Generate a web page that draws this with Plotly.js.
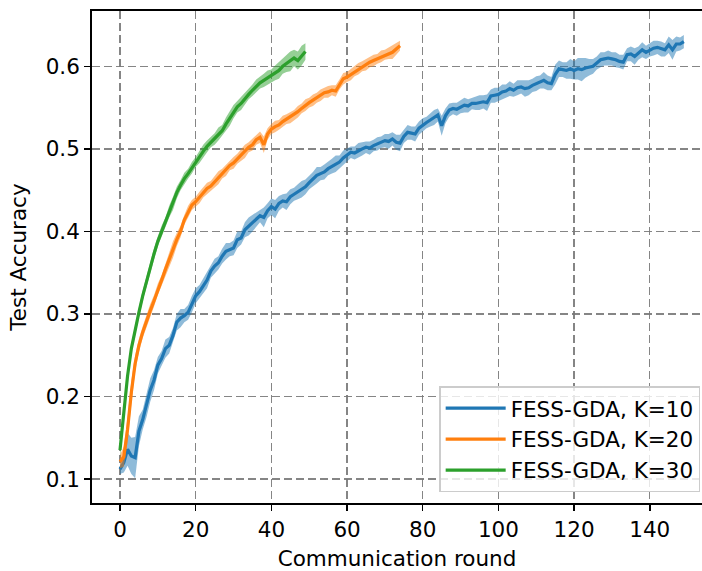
<!DOCTYPE html>
<html>
<head>
<meta charset="utf-8">
<script src="https://cdn.plot.ly/plotly-3.0.1.min.js"></script>
<style>html,body{margin:0;padding:0;background:#fff;}#chart{width:702px;height:571px;}</style>
</head>
<body>
<div id="chart"></div>
<script>
const seriesNames = ["FESS-GDA, K=10", "FESS-GDA, K=20", "FESS-GDA, K=30"];
const seriesColors = ["#1f77b4", "#ff7f0e", "#2ca02c"];
const fillColors = ["rgba(31,119,180,0.5)", "rgba(255,127,14,0.5)", "rgba(44,160,44,0.5)"];

const accK10 = [0.112,0.120,0.136,0.128,0.126,0.158,0.172,0.190,0.208,0.220,
0.238,0.246,0.258,0.262,0.274,0.290,0.295,0.298,0.302,0.312,
0.322,0.327,0.334,0.341,0.352,0.358,0.362,0.370,0.376,0.378,
0.380,0.390,0.392,0.402,0.406,0.410,0.414,0.419,0.417,0.425,
0.430,0.427,0.434,0.437,0.436,0.442,0.445,0.448,0.451,0.454,
0.459,0.463,0.468,0.470,0.472,0.476,0.479,0.482,0.484,0.489,
0.493,0.496,0.495,0.498,0.500,0.502,0.501,0.504,0.506,0.508,
0.510,0.509,0.512,0.508,0.507,0.515,0.520,0.519,0.518,0.525,
0.529,0.532,0.535,0.538,0.541,0.528,0.540,0.547,0.549,0.548,
0.551,0.553,0.552,0.555,0.555,0.556,0.557,0.556,0.564,0.565,
0.566,0.569,0.570,0.573,0.571,0.574,0.575,0.573,0.574,0.577,
0.579,0.581,0.583,0.580,0.579,0.590,0.597,0.596,0.595,0.597,
0.595,0.597,0.596,0.598,0.599,0.600,0.604,0.608,0.609,0.610,
0.609,0.608,0.606,0.605,0.614,0.615,0.612,0.616,0.620,0.617,
0.620,0.622,0.623,0.621,0.620,0.626,0.620,0.627,0.627,0.630];
const stdK10 = [0.006,0.012,0.020,0.022,0.025,0.018,0.012,0.015,0.014,0.012,
0.010,0.009,0.011,0.010,0.009,0.010,0.011,0.008,0.009,0.010,
0.009,0.008,0.009,0.010,0.008,0.009,0.008,0.009,0.010,0.008,
0.009,0.010,0.008,0.009,0.011,0.010,0.009,0.008,0.012,0.009,
0.010,0.011,0.009,0.008,0.010,0.009,0.008,0.009,0.010,0.009,
0.008,0.009,0.010,0.008,0.009,0.008,0.009,0.010,0.008,0.009,
0.008,0.007,0.008,0.009,0.008,0.007,0.008,0.007,0.008,0.007,
0.008,0.009,0.008,0.009,0.010,0.008,0.009,0.008,0.009,0.008,
0.008,0.007,0.008,0.009,0.008,0.012,0.009,0.008,0.007,0.008,
0.008,0.009,0.008,0.007,0.008,0.009,0.008,0.010,0.008,0.009,
0.008,0.009,0.008,0.009,0.008,0.009,0.008,0.010,0.009,0.008,
0.009,0.008,0.010,0.009,0.008,0.012,0.010,0.009,0.010,0.012,
0.011,0.013,0.014,0.012,0.010,0.009,0.008,0.009,0.008,0.009,
0.008,0.009,0.008,0.009,0.008,0.009,0.010,0.008,0.009,0.008,
0.008,0.009,0.008,0.009,0.008,0.010,0.012,0.009,0.008,0.008];

const accK20 = [0.121,0.127,0.160,0.205,0.240,0.262,0.278,0.292,0.304,0.316,
0.330,0.341,0.354,0.365,0.378,0.390,0.400,0.414,0.424,0.432,
0.436,0.441,0.447,0.452,0.455,0.460,0.465,0.470,0.474,0.480,
0.483,0.488,0.492,0.497,0.502,0.505,0.511,0.514,0.505,0.518,
0.524,0.527,0.529,0.533,0.536,0.538,0.541,0.545,0.549,0.553,
0.556,0.559,0.562,0.565,0.568,0.569,0.571,0.570,0.578,0.585,
0.587,0.590,0.594,0.597,0.600,0.602,0.605,0.607,0.609,0.612,
0.614,0.616,0.617,0.621,0.625];
const stdK20 = [0.008,0.012,0.015,0.014,0.010,0.008,0.007,0.007,0.008,0.007,
0.007,0.006,0.007,0.008,0.010,0.008,0.007,0.006,0.007,0.006,
0.006,0.007,0.006,0.007,0.006,0.007,0.008,0.006,0.007,0.006,
0.007,0.006,0.007,0.008,0.006,0.007,0.006,0.007,0.010,0.007,
0.006,0.007,0.006,0.007,0.006,0.007,0.006,0.007,0.006,0.007,
0.006,0.007,0.006,0.007,0.006,0.007,0.006,0.007,0.006,0.007,
0.006,0.007,0.006,0.007,0.006,0.007,0.006,0.007,0.006,0.007,
0.006,0.007,0.008,0.007,0.006];

const accK30 = [0.135,0.180,0.225,0.258,0.282,0.302,0.322,0.340,0.357,0.373,
0.388,0.400,0.411,0.424,0.434,0.447,0.456,0.464,0.470,0.477,
0.484,0.490,0.497,0.503,0.508,0.512,0.518,0.522,0.530,0.537,
0.545,0.551,0.555,0.561,0.566,0.571,0.576,0.580,0.583,0.586,
0.588,0.592,0.595,0.600,0.603,0.606,0.610,0.607,0.613,0.618];
const stdK30 = [0.010,0.008,0.007,0.006,0.006,0.006,0.006,0.006,0.007,0.007,
0.006,0.007,0.006,0.007,0.008,0.007,0.006,0.007,0.006,0.007,
0.006,0.007,0.008,0.007,0.006,0.007,0.008,0.007,0.008,0.009,
0.008,0.007,0.008,0.007,0.006,0.007,0.008,0.007,0.008,0.009,
0.008,0.009,0.010,0.009,0.010,0.012,0.010,0.011,0.012,0.010];

const xTicks = [0,20,40,60,80,100,120,140];
const yTicks = [0.1,0.2,0.3,0.4,0.5,0.6];

const allAcc = [accK10, accK20, accK30];
const allStd = [stdK10, stdK20, stdK30];

const traces = [];
allAcc.forEach((acc, i) => {
  const x = acc.map((_, r) => r);
  const up = acc.map((v, r) => v + allStd[i][r]);
  const lo = acc.map((v, r) => v - allStd[i][r]);
  traces.push({
    x: x.concat(x.slice().reverse()),
    y: up.concat(lo.slice().reverse()),
    type: 'scatter', mode: 'lines', fill: 'toself',
    fillcolor: fillColors[i], line: {width: 0, color: fillColors[i]},
    showlegend: false, hoverinfo: 'skip', legendgroup: 'g' + i
  });
  traces.push({
    x: x, y: acc, type: 'scatter', mode: 'lines', name: seriesNames[i],
    legendgroup: 'g' + i,
    line: {color: seriesColors[i], width: 3.2}
  });
});

const font = {family: 'DejaVu Sans, sans-serif', size: 21.5, color: '#000'};
const gridDash = '8px,4px';
const layout = {
  width: 702, height: 571,
  margin: {l: 92, r: 0, t: 11, b: 68},
  paper_bgcolor: '#fff', plot_bgcolor: '#fff',
  font: font,
  showlegend: true,
  xaxis: {
    range: [-7.4, 153.8], tickvals: xTicks, ticks: 'outside', ticklen: 6, tickwidth: 1.5,
    tickcolor: '#000', showline: true, linecolor: '#000', linewidth: 1.8, mirror: true,
    showgrid: true, gridcolor: 'rgba(120,120,120,0.9)', griddash: gridDash, gridwidth: 1.4,
    zeroline: false, tickfont: font,
    title: {text: 'Communication round', font: font, standoff: 13}
  },
  yaxis: {
    range: [0.071, 0.667], tickvals: yTicks, ticktext: yTicks.map(v => v.toFixed(1)),
    ticks: 'outside', ticklen: 6, tickwidth: 1.5,
    tickcolor: '#000', showline: true, linecolor: '#000', linewidth: 1.8, mirror: true,
    showgrid: true, gridcolor: 'rgba(120,120,120,0.9)', griddash: gridDash, gridwidth: 1.4,
    zeroline: false, tickfont: font,
    title: {text: 'Test Accuracy', font: font, standoff: 13}
  },
  legend: {
    x: 0.997, y: 0.022, xanchor: 'right', yanchor: 'bottom',
    bgcolor: 'rgba(255,255,255,0.8)', bordercolor: '#cccccc', borderwidth: 1.5,
    font: font, itemwidth: 60, tracegroupgap: 3, traceorder: 'normal'
  }
};
Plotly.newPlot('chart', traces, layout, {staticPlot: true, displayModeBar: false});
</script>
</body>
</html>
